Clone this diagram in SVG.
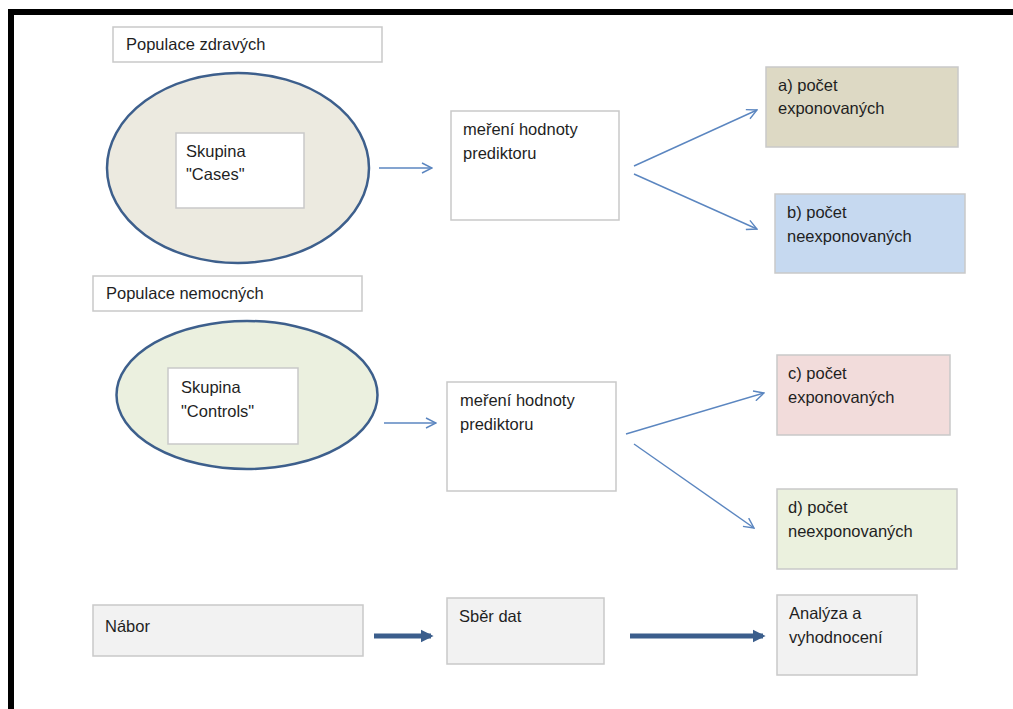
<svg xmlns="http://www.w3.org/2000/svg" width="1013" height="709" viewBox="0 0 1013 709">
  <style>
    .t { font-family: "Liberation Sans", Arial, sans-serif; font-size: 16.5px; fill: #1f1f1f; }
    .box { fill: #ffffff; stroke: #c9c9c9; stroke-width: 1.5; }
    .grey { fill: #f2f2f2; stroke: #c9c9c9; stroke-width: 1.5; }
    .ell { stroke: #3d5f8c; stroke-width: 2.5; }
    .thin { stroke: #5b86c0; stroke-width: 1.4; fill: none; marker-end: url(#open); }
    .thick { stroke: #3b5e8c; stroke-width: 5; fill: none; marker-end: url(#solid); }
  </style>
  <defs>
    <marker id="open" viewBox="0 0 12 12" refX="11" refY="6" markerWidth="12" markerHeight="12" markerUnits="userSpaceOnUse" orient="auto">
      <path d="M1,1 L11,6 L1,11" fill="none" stroke="#5b86c0" stroke-width="1.4"/>
    </marker>
    <marker id="solid" viewBox="0 0 10 10" refX="8" refY="5" markerWidth="2.6" markerHeight="3.2" orient="auto">
      <path d="M0,0 L10,5 L0,10 Z" fill="#3b5e8c"/>
    </marker>
  </defs>

  <rect width="1013" height="709" fill="#ffffff"/>
  <!-- frame -->
  <rect x="8" y="9" width="1005" height="6" fill="#000"/>
  <rect x="8" y="9" width="6" height="700" fill="#000"/>

  <!-- upper group: healthy population -->
  <g id="pop-healthy">
    <rect class="box" x="113" y="27" width="269" height="35"/>
    <text class="t" x="126" y="50">Populace zdravých</text>
  </g>
  <g id="cases">
    <ellipse class="ell" cx="238" cy="168" rx="131" ry="95" fill="#eceae0"/>
    <rect class="box" x="176" y="133" width="128" height="75"/>
    <text class="t" x="186" y="157">Skupina</text>
    <text class="t" x="186" y="180">"Cases"</text>
  </g>
  <g id="measure-1">
    <rect class="box" x="451" y="111" width="168" height="109"/>
    <text class="t" x="463" y="135">meření hodnoty</text>
    <text class="t" x="463" y="159">prediktoru</text>
  </g>
  <g id="a-exposed">
    <rect x="766" y="67" width="192" height="80" fill="#ddd9c4" stroke="#c9c9c9" stroke-width="1.5"/>
    <text class="t" x="778" y="91">a) počet</text>
    <text class="t" x="778" y="114">exponovaných</text>
  </g>
  <g id="b-unexposed">
    <rect x="775" y="194" width="190" height="79" fill="#c6d9f0" stroke="#c9c9c9" stroke-width="1.5"/>
    <text class="t" x="787" y="218">b) počet</text>
    <text class="t" x="787" y="242">neexponovaných</text>
  </g>

  <!-- lower group: sick population -->
  <g id="pop-sick">
    <rect class="box" x="93" y="276" width="269" height="35"/>
    <text class="t" x="106" y="299">Populace nemocných</text>
  </g>
  <g id="controls">
    <ellipse class="ell" cx="247" cy="395" rx="130.5" ry="74" fill="#ebf0df"/>
    <rect class="box" x="168" y="368" width="130" height="76"/>
    <text class="t" x="181" y="393">Skupina</text>
    <text class="t" x="181" y="417">"Controls"</text>
  </g>
  <g id="measure-2">
    <rect class="box" x="447" y="382" width="169" height="109"/>
    <text class="t" x="460" y="406">meření hodnoty</text>
    <text class="t" x="460" y="430">prediktoru</text>
  </g>
  <g id="c-exposed">
    <rect x="777" y="355" width="173" height="80" fill="#f2dcdb" stroke="#c9c9c9" stroke-width="1.5"/>
    <text class="t" x="788" y="379">c) počet</text>
    <text class="t" x="788" y="403">exponovaných</text>
  </g>
  <g id="d-unexposed">
    <rect x="777" y="489" width="180" height="80" fill="#ebf1de" stroke="#c9c9c9" stroke-width="1.5"/>
    <text class="t" x="788" y="513">d) počet</text>
    <text class="t" x="788" y="537">neexponovaných</text>
  </g>

  <!-- workflow row -->
  <g id="recruit">
    <rect class="grey" x="93" y="605" width="270" height="51"/>
    <text class="t" x="105" y="632">Nábor</text>
  </g>
  <g id="collect">
    <rect class="grey" x="447" y="598" width="157" height="66"/>
    <text class="t" x="459" y="622">Sběr dat</text>
  </g>
  <g id="analyse">
    <rect class="grey" x="777" y="595" width="140" height="80"/>
    <text class="t" x="789" y="619">Analýza a</text>
    <text class="t" x="789" y="643">vyhodnocení</text>
  </g>

  <!-- connectors -->
  <g id="connectors">
    <line class="thin" x1="379" y1="168" x2="432" y2="168"/>
    <line class="thin" x1="634" y1="166" x2="757" y2="110"/>
    <line class="thin" x1="634" y1="174" x2="757" y2="229"/>
    <line class="thin" x1="384" y1="423" x2="436" y2="423"/>
    <line class="thin" x1="626" y1="434" x2="764" y2="393"/>
    <line class="thin" x1="634" y1="444" x2="754" y2="528"/>
    <line class="thick" x1="374" y1="636" x2="431" y2="636"/>
    <line class="thick" x1="630" y1="636" x2="763" y2="636"/>
  </g>
</svg>
